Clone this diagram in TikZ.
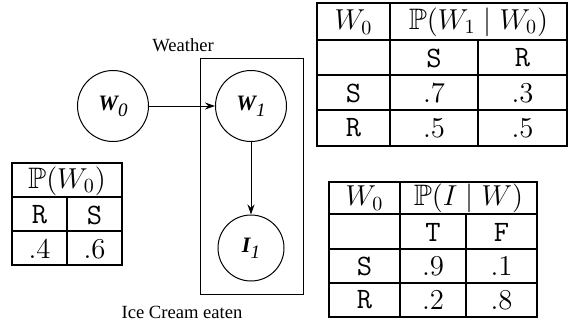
\documentclass[tikz,border=0pt]{standalone}
\usepackage{amssymb}
\usepackage{fontspec}
\newfontfamily\timesfont{Liberation Serif}
\usetikzlibrary{arrows.meta}
\newcommand{\nodelbl}[2]{{\timesfont\fontsize{11}{13}\selectfont\bfseries\itshape #1\raisebox{-0.6ex}{\mdseries\itshape\fontsize{9.5}{11}\selectfont #2}}}
\begin{document}
\begin{tikzpicture}[x=0.5pt,y=-0.5pt,
  rv/.style={circle,draw,line width=0.5pt,minimum size=35.5pt,inner sep=0pt},
  edge/.style={-{Stealth[length=5pt,width=3.5pt]},line width=0.5pt},
  grid/.style={line width=0.6pt},
  cell/.style={font=\fontsize{14.8}{17}\selectfont,inner sep=0pt,anchor=center},
  caption/.style={font=\timesfont\fontsize{9.3}{11}\selectfont,inner sep=0pt}]
\useasboundingbox (0,0) rectangle (569,322);

% --- network: plate with W1 and I1, W0 outside ---
\draw[line width=0.5pt] (200,58) rectangle (303,294);
\node[caption] (wlab) at (183,45) {Weather};
\node[caption] (ilab) at (182,312) {Ice Cream eaten};
\node[rv] (w0) at (113,106) {\nodelbl{W}{0}};
\node[rv] (w1) at (251,106) {\nodelbl{W}{1}};
\node[rv,minimum size=33pt] (i1) at (251,248) {\nodelbl{I}{1}};
\draw[edge] (w0) -- (w1);
\draw[edge] (w1) -- (i1);

% --- P(W0) table ---
\draw[grid] (12,163) rectangle (122,265);
\draw[grid] (12,197) -- (122,197);
\draw[grid] (12,231) -- (122,231);
\draw[grid] (67,197) -- (67,265);
\node[cell] (p0h) at (67,181) {$\mathbb{P}(W_0)$};
\node[cell] (p0r) at (39.5,215) {\texttt{R}};
\node[cell] (p0s) at (94.5,215) {\texttt{S}};
\node[cell] (p0a) at (39.5,249) {$.4$};
\node[cell] (p0b) at (94.5,249) {$.6$};

% --- P(W1 | W0) table ---
\draw[grid] (317,3) rectangle (567,146);
\draw[grid] (317,40) -- (567,40);
\draw[grid] (317,75) -- (567,75);
\draw[grid] (317,110) -- (567,110);
\draw[grid] (390,3) -- (390,146);
\draw[grid] (478,40) -- (478,146);
\node[cell] (t1h) at (353.5,22) {$W_0$};
\node[cell] (t1p) at (478.5,22) {$\mathbb{P}(W_1 \mid W_0)$};
\node[cell] (t1s) at (434,58) {\texttt{S}};
\node[cell] (t1r) at (522.5,58) {\texttt{R}};
\node[cell] (t1a) at (353.5,93) {\texttt{S}};
\node[cell] (t1b) at (434,93) {$.7$};
\node[cell] (t1c) at (522.5,93) {$.3$};
\node[cell] (t1d) at (353.5,128) {\texttt{R}};
\node[cell] (t1e) at (434,128) {$.5$};
\node[cell] (t1f) at (522.5,128) {$.5$};

% --- P(I | W) table ---
\draw[grid] (329,182) rectangle (537,317);
\draw[grid] (329,214) -- (537,214);
\draw[grid] (329,249) -- (537,249);
\draw[grid] (329,283) -- (537,283);
\draw[grid] (400,182) -- (400,317);
\draw[grid] (466,214) -- (466,317);
\node[cell] (t2h) at (364.5,198) {$W_0$};
\node[cell] (t2p) at (468.5,198) {$\mathbb{P}(I \mid W)$};
\node[cell] (t2t) at (433,232) {\texttt{T}};
\node[cell] (t2f) at (501.5,232) {\texttt{F}};
\node[cell] (t2a) at (364.5,266) {\texttt{S}};
\node[cell] (t2b) at (433,266) {$.9$};
\node[cell] (t2c) at (501.5,266) {$.1$};
\node[cell] (t2d) at (364.5,300) {\texttt{R}};
\node[cell] (t2e) at (433,300) {$.2$};
\node[cell] (t2g) at (501.5,300) {$.8$};
\end{tikzpicture}
\end{document}
